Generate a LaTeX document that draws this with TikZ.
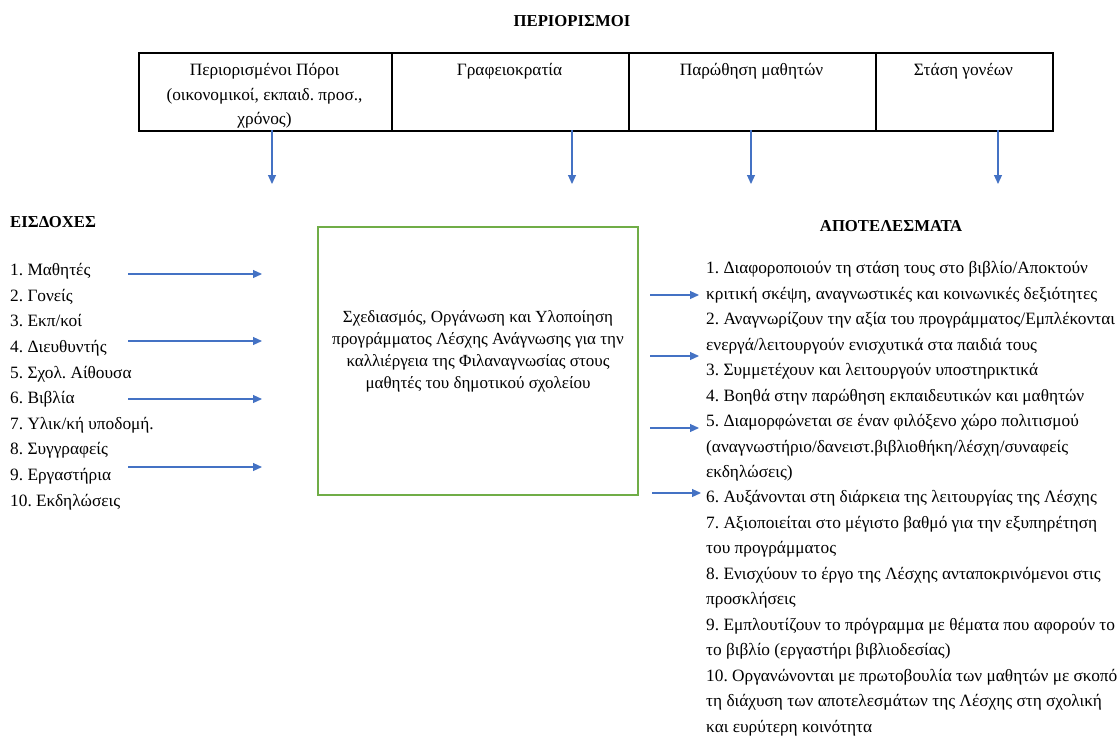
\documentclass[tikz,border=0pt]{standalone}
\usepackage{fontspec}
\setmainfont{Liberation Serif}
\usetikzlibrary{arrows.meta}
\definecolor{arrowblue}{RGB}{68,114,196}
\definecolor{boxgreen}{RGB}{112,173,71}
\frenchspacing
\begin{document}
\begin{tikzpicture}[x=1pt,y=-1pt,
  txt/.style={inner sep=0pt, font=\fontsize{17.3}{25.65}\selectfont},
  head/.style={inner sep=0pt, font=\fontsize{16.7}{20}\selectfont\bfseries},
  cell/.style={draw=black, line width=1.5pt, inner sep=0pt, anchor=north west, minimum height=78pt},
  celltxt/.style={inner sep=0pt, anchor=north, align=center, font=\fontsize{17.3}{24.5}\selectfont},
  arr/.style={draw=arrowblue, line width=1.2pt, -{Triangle[length=9pt,width=8pt]}}]
\useasboundingbox (0,0) rectangle (1120,737);
% title
\node[head] (title) at (572,21) {ΠΕΡΙΟΡΙΣΜΟΙ};
% table
\node[cell, minimum width=253pt] (c1) at (138,52) {};
\node[cell, minimum width=237pt] (c2) at (391,52) {};
\node[cell, minimum width=247pt] (c3) at (628,52) {};
\node[cell, minimum width=177pt] (c4) at (875,52) {};
\node[celltxt] (t1) at (264.5,63.5) {Περιορισμένοι Πόροι\\(οικονομικοί, εκπαιδ. προσ.,\\χρόνος)};
\node[celltxt] (t2) at (509.5,63.5) {Γραφειοκρατία};
\node[celltxt] (t3) at (751.5,63.5) {Παρώθηση μαθητών};
\node[celltxt] (t4) at (963.5,63.5) {Στάση γονέων};
% down arrows
\coordinate (d1s) at (272,130); \coordinate (d1e) at (272,184);
\coordinate (d2s) at (572,130); \coordinate (d2e) at (572,184);
\coordinate (d3s) at (751,130); \coordinate (d3e) at (751,184);
\coordinate (d4s) at (998,130); \coordinate (d4e) at (998,184);
\draw[arr] (d1s) -- (d1e);
\draw[arr] (d2s) -- (d2e);
\draw[arr] (d3s) -- (d3e);
\draw[arr] (d4s) -- (d4e);
% headers
\node[head, anchor=west] (eis) at (10,222) {ΕΙΣΔΟΧΕΣ};
\node[head] (apo) at (891,226) {ΑΠΟΤΕΛΕΣΜΑΤΑ};
% inputs list
\node[txt, anchor=north west, align=left] (inputs) at (10,263) {1. Μαθητές\\2. Γονείς\\3. Εκπ/κοί\\4. Διευθυντής\\5. Σχολ. Αίθουσα\\6. Βιβλία\\7. Υλικ/κή υποδομή.\\8. Συγγραφείς\\9. Εργαστήρια\\10. Εκδηλώσεις};
% center box
\node[draw=boxgreen, line width=1.5pt, minimum width=320pt, minimum height=268pt, inner sep=0pt] (box) at (478,361) {};
\node[inner sep=0pt, align=center, font=\fontsize{17}{22}\selectfont] (boxtxt) at (478,351) {Σχεδιασμός, Οργάνωση και Υλοποίηση\\προγράμματος Λέσχης Ανάγνωσης για την\\καλλιέργεια της Φιλαναγνωσίας στους\\μαθητές του δημοτικού σχολείου};
% input arrows
\coordinate (i1s) at (128,274); \coordinate (i1e) at (262,274);
\coordinate (i2s) at (128,341); \coordinate (i2e) at (262,341);
\coordinate (i3s) at (128,399); \coordinate (i3e) at (262,399);
\coordinate (i4s) at (128,467); \coordinate (i4e) at (262,467);
\draw[arr] (i1s) -- (i1e);
\draw[arr] (i2s) -- (i2e);
\draw[arr] (i3s) -- (i3e);
\draw[arr] (i4s) -- (i4e);
% outputs list
\node[txt, anchor=north west, align=left, font=\fontsize{17.3}{25.45}\selectfont] (outputs) at (706,261.5) {1. Διαφοροποιούν τη στάση τους στο βιβλίο/Αποκτούν\\κριτική σκέψη, αναγνωστικές και κοινωνικές δεξιότητες\\2. Αναγνωρίζουν την αξία του προγράμματος/Εμπλέκονται\\ενεργά/λειτουργούν ενισχυτικά στα παιδιά τους\\3. Συμμετέχουν και λειτουργούν υποστηρικτικά\\4. Βοηθά στην παρώθηση εκπαιδευτικών και μαθητών\\5. Διαμορφώνεται σε έναν φιλόξενο χώρο πολιτισμού\\(αναγνωστήριο/δανειστ.βιβλιοθήκη/λέσχη/συναφείς\\εκδηλώσεις)\\6. Αυξάνονται στη διάρκεια της λειτουργίας της Λέσχης\\7. Αξιοποιείται στο μέγιστο βαθμό για την εξυπηρέτηση\\του προγράμματος\\8. Ενισχύουν το έργο της Λέσχης ανταποκρινόμενοι στις\\προσκλήσεις\\9. Εμπλουτίζουν το πρόγραμμα με θέματα που αφορούν το\\το βιβλίο (εργαστήρι βιβλιοδεσίας)\\10. Οργανώνονται με πρωτοβουλία των μαθητών με σκοπό\\τη διάχυση των αποτελεσμάτων της Λέσχης στη σχολική\\και ευρύτερη κοινότητα};
% output arrows
\coordinate (o1s) at (650,295); \coordinate (o1e) at (699,295);
\coordinate (o2s) at (650,356); \coordinate (o2e) at (699,356);
\coordinate (o3s) at (650,428); \coordinate (o3e) at (699,428);
\coordinate (o4s) at (652,493); \coordinate (o4e) at (701,493);
\draw[arr] (o1s) -- (o1e);
\draw[arr] (o2s) -- (o2e);
\draw[arr] (o3s) -- (o3e);
\draw[arr] (o4s) -- (o4e);
\end{tikzpicture}
\end{document}
